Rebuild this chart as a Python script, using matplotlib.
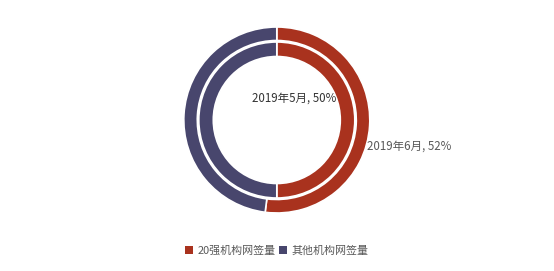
import matplotlib
matplotlib.use("Agg")
import matplotlib.pyplot as plt
from matplotlib.patches import Patch

plt.rcParams['font.family'] = ['Noto Sans CJK SC', 'DejaVu Sans']

categories = ['20强机构网签量', '其他机构网签量']
colors = ['#A9321E', '#48466D']
outer_vals = [52, 48]   # 2019年6月
inner_vals = [50, 50]   # 2019年5月
outer_label = '2019年6月, 52%'
inner_label = '2019年5月, 50%'

W, H = 554, 271
fig = plt.figure(figsize=(W / 100, H / 100), dpi=100)
ax = fig.add_axes([0, 0, 1, 1])
cx, cy = 276.8, H - 120

ax.pie(outer_vals, colors=colors, radius=93, center=(cx, cy), startangle=90,
       counterclock=False, wedgeprops=dict(width=13.5, edgecolor='white', linewidth=1.2))
ax.pie(inner_vals, colors=colors, radius=78, center=(cx, cy), startangle=90,
       counterclock=False, wedgeprops=dict(width=14.5, edgecolor='white', linewidth=1.2))

ax.set_xlim(0, W)
ax.set_ylim(0, H)
ax.set_aspect('equal')
ax.axis('off')

ax.text(294, H - 98, inner_label, ha='center', va='center', fontsize=8.3, color='#333333')
ax.text(367, H - 146, outer_label, ha='left', va='center', fontsize=8.3, color='#595959')

handles = [Patch(facecolor=c, edgecolor='none') for c in colors]
fig.legend(handles, categories, loc='center', bbox_to_anchor=(276.5 / W, 1 - 251 / H), ncol=2,
           frameon=False, fontsize=7.9, handlelength=0.75, handleheight=0.75,
           handletextpad=0.4, columnspacing=0.3, labelcolor='#595959')

fig.savefig('out.png', dpi=100)
